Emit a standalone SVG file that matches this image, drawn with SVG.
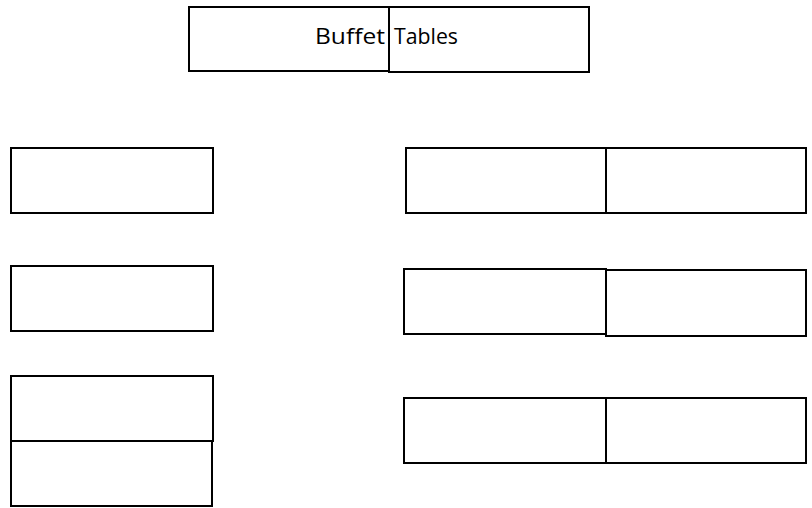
<svg xmlns="http://www.w3.org/2000/svg" width="812" height="508" viewBox="0 0 812 508">
  <style>
    .tbl { fill: #ffffff; stroke: #000000; stroke-width: 2; }
    .lbl { font-family: "Open Sans", "Liberation Sans", sans-serif; font-size: 22px; fill: #000000; }
  </style>
  <rect width="812" height="508" fill="#ffffff"/>

  <!-- Buffet tables along the top -->
  <g id="buffet">
    <rect class="tbl" x="189" y="7" width="200" height="64"/>
    <rect class="tbl" x="389" y="7" width="200" height="65"/>
    <text class="lbl" y="44"><tspan x="315" textLength="70" lengthAdjust="spacingAndGlyphs">Buffet</tspan> <tspan x="394" textLength="64" lengthAdjust="spacingAndGlyphs">Tables</tspan></text>
  </g>

  <!-- Left column of tables -->
  <g id="left-1">
    <rect class="tbl" x="11" y="148" width="202" height="65"/>
  </g>
  <g id="left-2">
    <rect class="tbl" x="11" y="266" width="202" height="65"/>
  </g>
  <g id="left-3">
    <rect class="tbl" x="11" y="376" width="202" height="65"/>
    <rect class="tbl" x="11" y="441" width="201" height="65"/>
  </g>

  <!-- Right column of paired tables -->
  <g id="right-1">
    <rect class="tbl" x="406" y="148" width="200" height="65"/>
    <rect class="tbl" x="606" y="148" width="200" height="65"/>
  </g>
  <g id="right-2">
    <rect class="tbl" x="404" y="269" width="202" height="65"/>
    <rect class="tbl" x="606" y="270" width="200" height="66"/>
  </g>
  <g id="right-3">
    <rect class="tbl" x="404" y="398" width="202" height="65"/>
    <rect class="tbl" x="606" y="398" width="200" height="65"/>
  </g>

  <g id="connectors"/>
</svg>
